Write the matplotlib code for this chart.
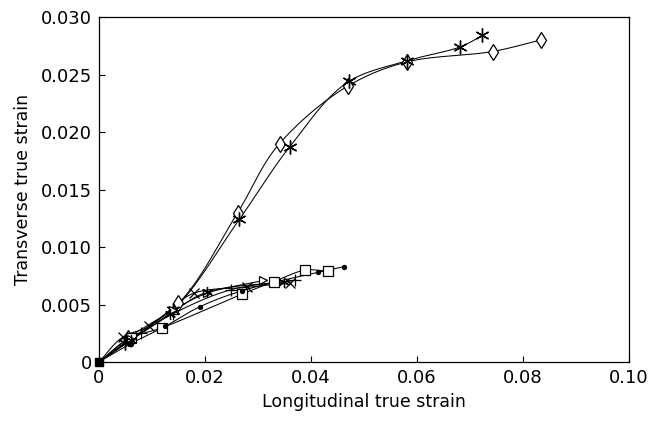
import numpy as np
import matplotlib
matplotlib.use("Agg")
import matplotlib.pyplot as plt

# ---- data ----
diamond_x = [0, 0.0055, 0.0150, 0.0262, 0.0341, 0.0470, 0.0582, 0.0743, 0.0834]
diamond_y = [0, 0.0021, 0.0051, 0.0130, 0.0190, 0.0240, 0.0261, 0.0270, 0.0280]

star_x = [0, 0.0050, 0.0140, 0.0265, 0.0360, 0.0472, 0.0582, 0.0682, 0.0724]
star_y = [0, 0.0017, 0.0045, 0.0124, 0.0187, 0.0244, 0.0262, 0.0274, 0.0284]

square_x = [0, 0.0060, 0.0120, 0.0270, 0.0330, 0.0390, 0.0432]
square_y = [0, 0.0021, 0.0030, 0.0059, 0.0070, 0.0080, 0.0079]

dot_x = [0, 0.0060, 0.0125, 0.0190, 0.0270, 0.0413, 0.0463]
dot_y = [0, 0.0016, 0.0031, 0.0048, 0.0062, 0.0078, 0.0083]

cross_x = [0, 0.0046, 0.0095, 0.0180, 0.0280, 0.0360]
cross_y = [0, 0.0022, 0.0031, 0.0060, 0.0065, 0.0069]

plus_x = [0, 0.0080, 0.0140, 0.0250, 0.0370]
plus_y = [0, 0.0025, 0.0042, 0.0063, 0.0071]

tri_x = [0, 0.0060, 0.0140, 0.0205, 0.0310]
tri_y = [0, 0.0020, 0.0045, 0.0060, 0.0071]

star2_x = [0, 0.0060, 0.0135, 0.0205, 0.0350]
star2_y = [0, 0.0019, 0.0042, 0.0061, 0.0070]

xticks = [0, 0.02, 0.04, 0.06, 0.08, 0.10]
xticklabels = ["0", "0.02", "0.04", "0.06", "0.08", "0.10"]
yticks = [0, 0.005, 0.010, 0.015, 0.020, 0.025, 0.030]
yticklabels = ["0", "0.005", "0.010", "0.015", "0.020", "0.025", "0.030"]


def smooth(x, y, n=24, sx=0.10, sy=0.030):
    """Centripetal Catmull-Rom curve through the points (line drawing only)."""
    P = np.column_stack([np.asarray(x, float) / sx, np.asarray(y, float) / sy])
    P = np.vstack([P[0] - (P[1] - P[0]), P, P[-1] + (P[-1] - P[-2])])
    out = []
    for i in range(1, len(P) - 2):
        p0, p1, p2, p3 = P[i - 1], P[i], P[i + 1], P[i + 2]
        t0 = 0.0
        t1 = t0 + np.linalg.norm(p1 - p0) ** 0.5 + 1e-9
        t2 = t1 + np.linalg.norm(p2 - p1) ** 0.5 + 1e-9
        t3 = t2 + np.linalg.norm(p3 - p2) ** 0.5 + 1e-9
        t = np.linspace(t1, t2, n, endpoint=False)[:, None]
        A1 = (t1 - t) / (t1 - t0) * p0 + (t - t0) / (t1 - t0) * p1
        A2 = (t2 - t) / (t2 - t1) * p1 + (t - t1) / (t2 - t1) * p2
        A3 = (t3 - t) / (t3 - t2) * p2 + (t - t2) / (t3 - t2) * p3
        B1 = (t2 - t) / (t2 - t0) * A1 + (t - t0) / (t2 - t0) * A2
        B2 = (t3 - t) / (t3 - t1) * A2 + (t - t1) / (t3 - t1) * A3
        C = (t2 - t) / (t2 - t1) * B1 + (t - t1) / (t2 - t1) * B2
        out.append(C)
    out.append(P[-2][None, :])
    out = np.vstack(out)
    return out[:, 0] * sx, out[:, 1] * sy


fig = plt.figure(figsize=(6.59, 4.25), dpi=100)
ax = fig.add_axes([0.150, 0.148, 0.804, 0.812])

series = [
    (diamond_x, diamond_y, dict(marker="d", ms=8, mfc="white", mec="black", mew=0.9)),
    (star_x, star_y, dict(marker=(6, 2, 0), ms=10, mec="black", mew=1.0)),
    (square_x, square_y, dict(marker="s", ms=7, mfc="white", mec="black", mew=0.9)),
    (dot_x, dot_y, dict(marker="o", ms=2.8, mfc="black", mec="black")),
    (cross_x, cross_y, dict(marker="x", ms=7, mec="black", mew=0.9)),
    (plus_x, plus_y, dict(marker="+", ms=8, mec="black", mew=0.9)),
    (tri_x, tri_y, dict(marker=">", ms=6, mfc="white", mec="black", mew=0.9)),
    (star2_x, star2_y, dict(marker=(6, 2, 0), ms=8, mec="black", mew=0.9)),
]

for xs, ys, mk in series:
    sx, sy = smooth(xs, ys)
    ax.plot(sx, sy, color="black", lw=0.75, zorder=2)
    ax.plot(xs[1:], ys[1:], ls="none", zorder=3, **mk)

# origin marker
ax.plot([0], [0], marker="s", ms=6, color="black", ls="none", zorder=4, clip_on=False)

ax.set_xlim(0, 0.10)
ax.set_ylim(0, 0.030)
ax.set_xticks(xticks)
ax.set_xticklabels(xticklabels)
ax.set_yticks(yticks)
ax.set_yticklabels(yticklabels)
ax.tick_params(direction="in", length=4, width=0.8, labelsize=13, pad=5)
for s in ax.spines.values():
    s.set_linewidth(0.9)

ax.set_xlabel("Longitudinal true strain", fontsize=12.5, labelpad=4)
ax.set_ylabel("Transverse true strain", fontsize=12.5, labelpad=6)

fig.savefig("out.png", dpi=100)
